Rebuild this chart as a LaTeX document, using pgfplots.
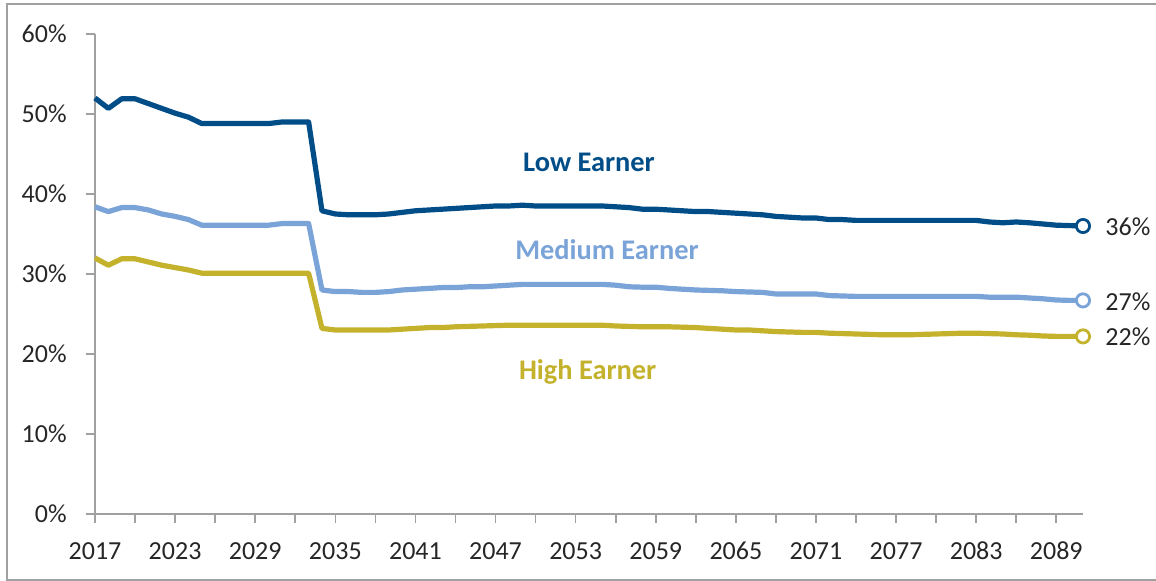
\documentclass[border=0pt]{standalone}
\usepackage{pgfplots}
\usepackage{pgfplotstable}
\pgfplotsset{compat=1.18}
\usepackage{fontspec}
\setmainfont{Carlito}
\definecolor{lowc}{RGB}{0,77,135}
\definecolor{medc}{RGB}{122,163,216}
\definecolor{highc}{RGB}{196,178,44}
\definecolor{axc}{RGB}{160,160,160}
\definecolor{txt}{RGB}{38,38,38}
\pgfplotstableread{
year low med high
2017 52.0 38.4 32.0
2018 50.7 37.8 31.1
2019 51.9 38.3 31.9
2020 51.9 38.3 31.9
2021 51.3 38.0 31.5
2022 50.7 37.5 31.1
2023 50.1 37.2 30.8
2024 49.6 36.8 30.5
2025 48.8 36.1 30.1
2026 48.8 36.1 30.1
2027 48.8 36.1 30.1
2028 48.8 36.1 30.1
2029 48.8 36.1 30.1
2030 48.8 36.1 30.1
2031 49.0 36.3 30.1
2032 49.0 36.3 30.1
2033 49.0 36.3 30.1
2034 37.9 28.0 23.2
2035 37.5 27.8 23.0
2036 37.4 27.8 23.0
2037 37.4 27.7 23.0
2038 37.4 27.7 23.0
2039 37.5 27.8 23.0
2040 37.7 28.0 23.1
2041 37.9 28.1 23.2
2042 38.0 28.2 23.3
2043 38.1 28.3 23.3
2044 38.2 28.3 23.4
2045 38.3 28.4 23.45
2046 38.4 28.4 23.5
2047 38.5 28.5 23.55
2048 38.5 28.6 23.6
2049 38.6 28.7 23.6
2050 38.5 28.7 23.6
2051 38.5 28.7 23.6
2052 38.5 28.7 23.6
2053 38.5 28.7 23.6
2054 38.5 28.7 23.6
2055 38.5 28.7 23.6
2056 38.4 28.6 23.5
2057 38.3 28.4 23.45
2058 38.1 28.35 23.4
2059 38.1 28.35 23.4
2060 38.0 28.2 23.4
2061 37.9 28.1 23.35
2062 37.8 28.0 23.3
2063 37.8 27.95 23.2
2064 37.7 27.9 23.1
2065 37.6 27.8 23.0
2066 37.5 27.75 23.0
2067 37.4 27.7 22.9
2068 37.2 27.5 22.8
2069 37.1 27.5 22.75
2070 37.0 27.5 22.7
2071 37.0 27.5 22.7
2072 36.8 27.3 22.6
2073 36.8 27.25 22.55
2074 36.7 27.2 22.5
2075 36.7 27.2 22.45
2076 36.7 27.2 22.4
2077 36.7 27.2 22.4
2078 36.7 27.2 22.4
2079 36.7 27.2 22.45
2080 36.7 27.2 22.5
2081 36.7 27.2 22.55
2082 36.7 27.2 22.6
2083 36.7 27.2 22.6
2084 36.5 27.1 22.55
2085 36.4 27.1 22.5
2086 36.5 27.1 22.4
2087 36.4 27.0 22.35
2088 36.25 26.9 22.25
2089 36.1 26.75 22.2
2090 36.05 26.7 22.2
2091 36.0 26.7 22.2
}\datatable
\begin{document}
\begin{tikzpicture}
\useasboundingbox (-47.5pt,-33.5pt) rectangle (530.5pt,257pt);
\draw[axc, line width=1pt] (-44pt,-33pt) rectangle (535pt,255pt);
\begin{axis}[
  at={(0,0)}, anchor=south west,
  scale only axis, width=494pt, height=240pt,
  xmin=2017, xmax=2091, ymin=0, ymax=60,
  axis x line*=bottom, axis y line*=left,
  axis line style={axc, line width=0.8pt},
  every tick/.style={axc, line width=0.8pt},
  tick align=outside,
  major tick length=4.5pt, minor tick length=4.5pt,
  xtick={2017,2023,...,2089},
  minor xtick={2020,2026,...,2086},
  ytick={0,10,...,60},
  yticklabel={\pgfmathprintnumber{\tick}\%},
  xticklabel={\pgfmathprintnumber[1000 sep=]{\tick}},
  /pgf/number format/assume math mode=true,
  ticklabel style={font=\fontsize{13}{15}\selectfont, text=txt},
  yticklabel style={anchor=east, inner sep=0pt, xshift=-9.5pt},
  xticklabel style={anchor=center, inner sep=0pt, yshift=-14pt},
  clip=false,
  line join=round,
]
\addplot[lowc, line width=2.6pt, mark=*, mark indices={75}, mark size=3.3pt,
  mark options={fill=white, draw=lowc, line width=1.4pt}] table[x=year,y=low]{\datatable};
\addplot[medc, line width=2.6pt, mark=*, mark indices={75}, mark size=3.3pt,
  mark options={fill=white, draw=medc, line width=1.4pt}] table[x=year,y=med]{\datatable};
\addplot[highc, line width=2.6pt, mark=*, mark indices={75}, mark size=3.3pt,
  mark options={fill=white, draw=highc, line width=1.4pt}] table[x=year,y=high]{\datatable};
\node[font=\bfseries\fontsize{14.2}{16}\selectfont, text=lowc] at (axis cs:2054.0,43.9) {Low Earner};
\node[font=\bfseries\fontsize{14.2}{16}\selectfont, text=medc] at (axis cs:2055.35,33.0) {Medium Earner};
\node[font=\bfseries\fontsize{14.2}{16}\selectfont, text=highc] at (axis cs:2053.9,17.75) {High Earner};
\node[anchor=west, inner sep=0pt, xshift=11pt, font=\fontsize{13}{15}\selectfont, text=txt] at (axis cs:2091,35.9) {36\%};
\node[anchor=west, inner sep=0pt, xshift=11pt, font=\fontsize{13}{15}\selectfont, text=txt] at (axis cs:2091,26.55) {27\%};
\node[anchor=west, inner sep=0pt, xshift=11pt, font=\fontsize{13}{15}\selectfont, text=txt] at (axis cs:2091,22.2) {22\%};
\end{axis}
\end{tikzpicture}
\end{document}
